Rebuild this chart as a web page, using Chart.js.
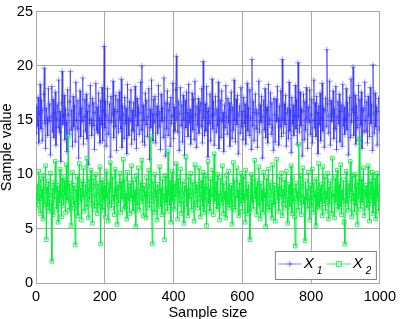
<!DOCTYPE html>
<html>
<head>
<meta charset="utf-8">
<script src="https://cdn.jsdelivr.net/npm/chart.js@4/dist/chart.umd.min.js"></script>
<style>
  html, body { margin: 0; padding: 0; background: #fff; }
  #wrap { width: 401px; height: 319px; }
</style>
</head>
<body>
<div id="wrap"><canvas id="chart" width="401" height="319"></canvas></div>
<script>
// one sample read every 2 steps of "Sample size"
const sampleStep = 2;

// X1 (blue, +)
const x1Values = [
  13.8,16.2,14.5,17.1,12.9,15.6,18.3,14.2,16.8,13.1,15.9,17.4,19.8,14.7,12.4,16.1,15.2,13.6,17.9,14.9,
  16.5,11.8,15.3,18.1,14.0,16.9,13.4,15.7,17.6,12.7,15.1,16.4,14.3,18.7,13.9,15.8,11.2,16.6,19.5,14.6,
  15.4,17.3,13.2,16.0,14.8,12.1,17.8,15.5,13.7,16.7,19.5,14.1,15.9,12.6,17.2,14.4,16.3,13.0,18.5,15.0,
  14.2,16.8,11.5,15.6,17.7,13.5,16.1,14.9,18.9,12.8,15.3,16.9,14.0,17.4,13.3,15.8,10.9,16.4,14.7,18.2,
  15.1,13.6,17.0,14.5,16.6,12.3,15.7,18.4,14.1,16.2,13.8,17.5,15.2,12.9,16.8,14.6,18.0,13.1,15.9,21.8,
  14.3,16.7,12.6,15.4,17.9,13.7,15.0,16.5,11.6,17.2,14.8,15.6,18.6,13.4,16.0,14.4,17.3,12.2,15.8,16.9,
  13.9,17.6,15.1,14.2,18.8,12.5,16.3,15.5,13.3,17.1,14.7,16.1,11.9,18.3,15.2,13.6,16.7,14.9,17.8,12.8,
  15.9,14.0,16.6,13.2,18.1,15.4,12.4,17.0,14.5,16.2,13.7,15.7,18.5,14.1,20.0,13.0,16.4,15.0,12.7,17.5,
  14.6,16.8,13.5,15.3,17.9,11.4,16.0,14.3,18.7,15.6,13.1,16.9,14.8,17.2,12.9,15.5,16.3,13.8,18.2,14.4,
  15.8,12.3,17.4,14.9,16.1,13.4,18.9,15.2,11.7,16.6,14.2,17.7,13.6,15.9,16.5,12.6,17.1,14.7,15.4,18.4,
  13.3,16.2,14.0,17.8,20.9,15.1,13.9,16.7,12.2,15.6,18.0,14.5,16.4,13.0,17.3,15.0,11.8,16.8,14.3,17.6,
  15.7,13.5,18.3,14.8,16.0,12.8,15.3,17.5,14.1,16.9,13.2,18.6,15.5,12.5,16.3,14.6,17.0,13.8,15.9,16.6,
  14.4,17.9,12.9,20.4,15.2,13.6,16.5,14.0,18.1,15.8,11.6,16.1,14.7,17.4,13.1,15.4,18.8,14.2,16.7,12.7,
  15.6,17.2,13.9,16.0,14.5,18.5,12.4,15.1,16.8,13.4,17.7,14.9,15.7,12.1,16.4,14.3,18.2,15.3,13.7,17.0,
  14.8,16.6,12.6,15.9,17.6,13.3,16.2,14.1,18.7,15.0,13.0,16.9,14.6,17.3,11.9,15.5,16.3,13.8,18.0,14.4,
  15.8,13.2,17.1,14.7,16.5,12.8,15.4,18.4,14.0,16.1,13.6,17.8,15.2,12.3,20.6,14.5,16.7,13.1,15.7,17.4,
  14.2,16.0,12.5,15.6,18.6,13.9,16.4,14.8,17.2,11.5,15.3,16.8,14.1,17.9,13.4,15.9,16.2,12.9,18.3,14.6,
  15.1,17.5,13.7,16.6,14.3,12.2,17.0,15.5,13.0,16.9,14.9,18.1,15.2,12.7,16.3,14.4,17.7,13.5,20.6,15.0,
  13.8,16.5,14.6,17.3,12.6,15.7,16.1,13.3,18.5,14.0,15.9,12.0,17.1,14.7,16.4,13.6,15.4,18.2,14.2,16.8,
  12.8,20.3,15.3,13.9,17.6,14.5,16.0,11.7,15.8,17.4,13.2,16.7,14.1,18.0,15.1,12.4,16.2,14.8,17.8,13.7,
  15.5,16.9,12.9,15.0,18.7,14.3,16.6,13.5,17.2,15.7,11.9,16.3,14.6,17.5,13.1,15.2,18.4,14.0,16.1,12.5,
  15.9,17.0,14.4,21.5,16.5,13.8,15.4,18.6,12.7,16.8,14.9,15.6,17.7,13.3,16.0,14.2,18.1,12.3,15.3,16.7,
  14.7,17.4,13.0,15.8,16.4,12.6,18.3,14.5,16.2,13.7,15.1,17.9,14.1,16.6,11.8,15.5,17.1,13.4,18.8,14.8,
  16.0,19.9,13.6,15.7,17.3,12.8,16.3,14.3,15.2,18.2,13.1,16.9,14.6,17.6,12.4,15.9,16.1,13.9,18.5,15.0,
  14.0,16.7,12.9,17.2,15.4,13.5,18.0,14.7,16.4,12.2,20.1,15.6,13.8,17.5,14.4,16.2,12.7,15.8,17.0,14.1
];

// X2 (green, squares)
const x2Values = [
  8.2,6.9,9.1,7.5,10.3,8.0,6.4,9.6,7.8,8.7,5.9,9.9,7.2,8.5,10.8,4.0,8.9,7.0,9.4,6.6,
  8.1,10.1,7.4,2.0,8.8,6.3,9.3,7.7,11.2,8.4,6.8,9.0,5.6,8.6,7.3,10.5,7.9,6.1,9.7,8.3,
  7.1,9.5,8.0,6.5,10.9,7.6,8.9,13.5,6.7,9.2,7.8,5.3,8.5,10.2,7.2,9.0,6.9,3.5,8.7,7.4,
  9.8,6.2,8.3,11.0,7.5,8.8,5.8,9.4,7.9,10.6,6.6,8.2,9.1,7.0,11.5,8.4,6.0,9.6,7.7,8.6,
  10.4,7.3,5.5,8.9,9.7,6.8,8.1,10.0,7.4,6.4,9.2,8.5,7.1,10.7,3.6,8.0,9.5,6.7,8.8,7.6,
  9.0,6.1,10.3,7.8,8.4,5.7,9.3,7.2,11.1,8.6,6.9,9.8,7.5,8.2,6.3,10.5,7.9,8.7,5.4,9.1,
  7.3,8.8,10.1,6.5,9.4,7.7,8.0,11.4,6.8,9.6,7.0,8.3,5.9,10.2,7.6,8.9,6.4,9.2,7.8,10.8,
  8.1,6.6,9.5,7.4,8.6,5.2,9.9,7.1,8.4,10.6,6.7,8.0,9.3,7.5,11.3,8.7,6.2,9.0,7.9,8.5,
  6.0,9.7,7.3,8.9,10.4,6.9,8.2,13.5,7.6,3.6,9.4,8.1,6.5,10.0,7.8,8.6,5.8,9.1,7.2,8.4,
  10.7,7.0,8.8,6.3,9.6,7.7,8.3,4.0,9.9,7.4,8.7,6.6,12.1,8.0,7.1,9.5,5.6,8.5,10.3,7.5,
  8.9,6.8,9.2,7.9,11.0,8.2,5.9,9.7,7.3,8.6,10.5,6.4,8.1,9.4,7.6,5.5,9.0,8.3,11.6,7.0,
  8.7,6.2,9.8,7.7,8.4,10.1,6.7,8.0,9.3,7.2,5.7,10.9,8.5,7.4,9.1,6.9,8.8,10.6,7.8,6.1,
  9.5,8.2,7.0,10.2,6.5,8.9,7.6,9.9,5.3,8.4,11.2,7.3,8.7,6.6,9.6,7.9,8.1,10.4,6.3,11.9,
  7.5,8.6,9.4,6.8,10.0,7.1,8.3,5.8,9.7,8.0,7.4,10.8,6.4,9.2,7.7,8.5,6.0,9.9,8.2,7.2,
  10.3,6.9,8.8,7.5,9.0,5.4,8.4,11.1,7.0,9.5,6.7,8.1,10.6,7.8,8.6,6.2,9.3,7.3,10.1,8.0,
  6.6,9.8,7.6,8.3,5.6,10.4,7.9,8.7,6.4,9.1,7.2,4.0,8.5,10.0,7.4,9.6,6.8,8.2,11.3,7.7,
  8.9,6.3,9.4,7.1,10.7,8.0,5.9,9.2,7.5,8.6,6.5,10.2,7.8,8.4,5.2,9.7,7.0,8.8,10.5,6.7,
  8.1,9.3,7.4,6.0,10.9,8.5,7.2,9.0,5.7,8.3,11.4,7.6,8.9,6.6,9.8,7.9,8.2,10.1,6.2,8.7,
  7.3,9.5,8.0,6.9,10.3,7.7,5.5,8.6,9.1,7.0,8.4,10.8,6.4,9.7,7.5,8.8,6.1,3.4,9.2,7.8,
  8.5,6.7,12.8,8.1,7.4,9.9,6.3,8.9,10.6,7.2,8.0,3.9,9.4,7.6,8.7,6.8,10.2,7.9,5.8,9.0,
  7.1,8.6,10.5,6.5,9.3,7.8,8.2,5.3,9.6,8.4,7.0,11.0,6.9,8.8,7.5,9.1,6.2,10.7,8.0,7.3,
  9.8,6.6,8.5,7.7,10.1,5.9,8.9,7.2,9.4,8.1,6.4,11.5,7.9,8.3,6.0,9.7,7.4,8.7,10.4,6.8,
  8.2,9.1,7.0,10.9,6.3,8.6,7.6,9.5,5.6,3.6,8.0,10.3,7.3,8.8,6.7,9.2,7.8,11.2,8.4,6.1,
  9.9,7.5,8.3,6.5,10.0,7.1,8.9,5.4,9.3,7.7,13.3,8.1,6.8,9.6,7.4,8.5,10.6,6.2,8.7,7.9,
  9.0,6.9,8.2,10.8,7.3,5.7,9.4,8.0,7.6,10.2,6.4,8.8,7.1,9.7,5.9,8.4,10.1,7.8,6.6,9.2
];

const xTicks = [0, 200, 400, 600, 800, 1000];
const yTicks = [0, 5, 10, 15, 20, 25];

const seriesNames = ['X', 'X'];
const seriesSubs = ['1', '2'];

const BLUE = 'rgba(40,40,255,0.7)';
const GREEN = '#00ee3a';
const GRID = '#a8a8a8';
const FONT = '"Liberation Sans", Arial, Helvetica, sans-serif';

function toPoints(values) {
  return values.map((v, i) => ({ x: i * sampleStep, y: v }));
}

// legend box inside the axes, bottom right (MATLAB style)
const insideLegend = {
  id: 'insideLegend',
  afterDraw(chart) {
    const ctx = chart.ctx;
    const area = chart.chartArea;
    const w = 101, h = 28;
    const left = area.right - 4 - w;
    const top = area.bottom - 4 - h;
    ctx.save();
    ctx.fillStyle = '#fff';
    ctx.fillRect(left, top, w, h);
    ctx.strokeStyle = '#808080';
    ctx.lineWidth = 1;
    ctx.strokeRect(left + 0.5, top + 0.5, w, h);

    const cy = top + 13;
    const items = [
      { color: BLUE, marker: 'cross', x0: left + 3 },
      { color: GREEN, marker: 'rect', x0: left + 52 }
    ];
    items.forEach((it, i) => {
      ctx.strokeStyle = it.color;
      ctx.lineWidth = 0.8;
      ctx.beginPath();
      ctx.moveTo(it.x0, cy);
      ctx.lineTo(it.x0 + 24, cy);
      ctx.stroke();
      const mx = it.x0 + 12;
      ctx.beginPath();
      if (it.marker === 'cross') {
        ctx.moveTo(mx - 3, cy); ctx.lineTo(mx + 3, cy);
        ctx.moveTo(mx, cy - 3); ctx.lineTo(mx, cy + 3);
      } else {
        ctx.rect(mx - 2.5, cy - 2.5, 5, 5);
      }
      ctx.stroke();

      ctx.fillStyle = '#000';
      ctx.textBaseline = 'alphabetic';
      ctx.textAlign = 'left';
      ctx.font = 'italic 15px ' + FONT;
      ctx.fillText(seriesNames[i], it.x0 + 26, cy + 4);
      ctx.font = 'italic 10px ' + FONT;
      ctx.fillText(seriesSubs[i], it.x0 + 39, cy + 10);
    });
    ctx.restore();
  }
};

new Chart(document.getElementById('chart'), {
  type: 'line',
  data: {
    datasets: [
      {
        label: 'X1',
        data: toPoints(x1Values),
        borderColor: BLUE,
        borderWidth: 0.9,
        pointStyle: 'cross',
        pointRadius: 3,
        pointBorderColor: BLUE,
        pointBorderWidth: 0.7,
        fill: false,
        tension: 0,
        order: 1
      },
      {
        label: 'X2',
        data: toPoints(x2Values),
        borderColor: GREEN,
        borderWidth: 1,
        pointStyle: 'rect',
        pointRadius: 2.6,
        pointBackgroundColor: 'rgba(0,0,0,0)',
        pointBorderColor: GREEN,
        pointBorderWidth: 0.8,
        fill: false,
        tension: 0,
        order: 0
      }
    ]
  },
  options: {
    responsive: false,
    animation: false,
    events: [],
    layout: { padding: { top: 5, right: 16, left: 0, bottom: 0 } },
    plugins: {
      legend: { display: false },
      tooltip: { enabled: false }
    },
    scales: {
      x: {
        type: 'linear',
        min: 0,
        max: 1000,
        afterFit(scale) { scale.height = 36; },
        afterBuildTicks(scale) { scale.ticks = xTicks.map(v => ({ value: v })); },
        ticks: {
          color: '#000',
          padding: 5,
          font: { family: FONT, size: 14.5 },
          callback: v => String(v)
        },
        grid: { color: GRID, drawTicks: false },
        border: { color: GRID },
        title: {
          display: true,
          text: 'Sample size',
          color: '#000',
          padding: { top: 0, bottom: -3 },
          font: { family: FONT, size: 14.5 }
        }
      },
      y: {
        min: 0,
        max: 25,
        afterFit(scale) { scale.width = 36; },
        afterBuildTicks(scale) { scale.ticks = yTicks.map(v => ({ value: v })); },
        ticks: {
          color: '#000',
          padding: 3,
          font: { family: FONT, size: 14.5 },
          callback: v => String(v)
        },
        grid: { color: GRID, drawTicks: false },
        border: { color: GRID },
        title: {
          display: true,
          text: 'Sample value',
          color: '#000',
          padding: { top: -2, bottom: 0 },
          font: { family: FONT, size: 14.5 }
        }
      }
    }
  },
  plugins: [insideLegend]
});
</script>
</body>
</html>
